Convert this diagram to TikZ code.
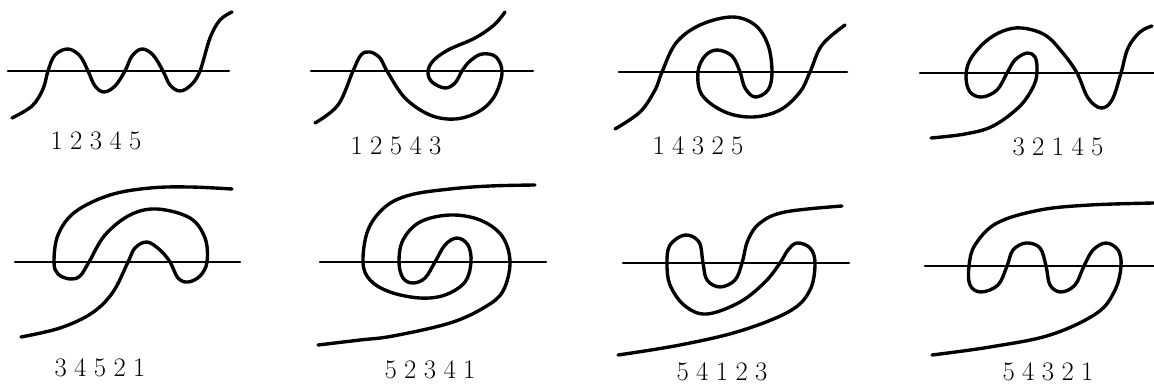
\documentclass[tikz,border=0pt]{standalone}
\usepackage{fontspec}
\usepackage{tikz}

\begin{document}
\begin{tikzpicture}[
  x=0.025cm,y=-0.025cm,
  axis/.style={line width=1.8pt,draw=black,line cap=round},
  meander/.style={line width=2.4pt,draw=black,line cap=round,line join=round,smooth,tension=0.6},
  num/.style={font=\fontsize{19}{22}\selectfont,inner sep=0pt}
]
\useasboundingbox (0,0) rectangle (1154,387);

% ends of the horizontal lines
\coordinate (l1) at (8,71);    \coordinate (r1) at (229,71);
\coordinate (l2) at (311,71);  \coordinate (r2) at (533,71);
\coordinate (l3) at (619,72);  \coordinate (r3) at (847,72);
\coordinate (l4) at (920,73);  \coordinate (r4) at (1154,73);
\coordinate (l5) at (15,262);  \coordinate (r5) at (240,262);
\coordinate (l6) at (320,262); \coordinate (r6) at (546,262);
\coordinate (l7) at (623,263); \coordinate (r7) at (849,263);
\coordinate (l8) at (925,266); \coordinate (r8) at (1154,266);

\draw[axis] (l1)--(r1);
\draw[axis] (l2)--(r2);
\draw[axis] (l3)--(r3);
\draw[axis] (l4)--(r4);
\draw[axis] (l5)--(r5);
\draw[axis] (l6)--(r6);
\draw[axis] (l7)--(r7);
\draw[axis] (l8)--(r8);

% top row
\draw[meander] plot coordinates {(12,118) (32,106) (43,89) (48,71) (55,55) (68,49) (80,56) (88,71) (95,86) (104,92) (115,86) (125,71) (132,56) (142,49) (153,55) (163,71) (170,85) (180,91) (191,85) (200,71) (210,38) (220,20) (232,12)};
\draw[meander] plot coordinates {(315,123) (338,105) (353,71) (361,55) (370,52) (380,58) (387,71) (405,98) (430,115) (455,119) (478,112) (494,97) (502,73) (496,57) (482,54) (470,61) (462,71) (455,83) (445,88) (432,82) (428,72) (433,61) (448,50) (475,38) (494,25) (505,12)};
\draw[meander] plot coordinates {(615,129) (640,112) (655,90) (662,72) (676,43) (700,25) (732,17) (755,25) (768,45) (772,72) (768,90) (755,97) (745,88) (740,72) (732,56) (717,50) (705,56) (698,72) (702,95) (725,112) (753,117) (780,110) (800,92) (810,72) (822,45) (845,25)};
\draw[meander] plot coordinates {(931,138) (965,134) (993,126) (1020,106) (1034,85) (1037,70) (1035,57) (1027,53) (1015,60) (1007,73) (997,90) (982,97) (970,92) (966,77) (970,60) (985,42) (1003,31) (1022,28) (1045,35) (1062,52) (1077,73) (1088,98) (1101,108) (1112,100) (1121,73) (1128,48) (1140,32) (1152,26)};

% bottom row
\draw[meander] plot coordinates {(21,337) (60,328) (92,313) (113,292) (128,262) (135,248) (147,242) (160,250) (170,262) (178,278) (188,282) (200,276) (207,262) (205,238) (190,218) (157,209) (130,215) (105,235) (89,262) (80,276) (70,279) (58,274) (54,262) (58,235) (75,212) (110,195) (150,188) (190,187) (232,189)};
\draw[meander] plot coordinates {(318,345) (360,340) (393,336) (450,323) (485,307) (503,291) (510,262) (502,236) (480,220) (450,215) (420,222) (403,240) (399,262) (403,278) (413,283) (425,278) (435,262) (445,245) (457,238) (468,245) (471,262) (465,282) (445,295) (420,298) (390,292) (370,280) (363,262) (368,230) (385,207) (410,195) (450,189) (490,186) (535,185)};
\draw[meander] plot coordinates {(618,355) (680,345) (740,331) (790,311) (810,290) (815,263) (810,248) (797,243) (788,250) (780,263) (765,282) (740,302) (707,314) (685,306) (670,285) (667,263) (670,245) (685,235) (699,242) (703,263) (707,280) (720,287) (735,280) (742,263) (748,240) (760,223) (785,212) (842,206)};
\draw[meander] plot coordinates {(932,355) (990,347) (1050,335) (1097,313) (1115,290) (1121,266) (1118,250) (1106,243) (1093,250) (1084,266) (1075,285) (1061,292) (1050,285) (1046,266) (1040,248) (1026,243) (1013,250) (1007,266) (998,285) (981,292) (970,285) (969,266) (975,245) (997,223) (1040,210) (1090,205) (1154,203)};

% numbers
\node[num] (n1) at (96,141) {1\;2\;3\;4\;5};
\node[num] (n2) at (396,146) {1\;2\;5\;4\;3};
\node[num] (n3) at (698,146) {1\;4\;3\;2\;5};
\node[num] (n4) at (1058,147) {3\;2\;1\;4\;5};
\node[num] (n5) at (100,368) {3\;4\;5\;2\;1};
\node[num] (n6) at (430,370) {5\;2\;3\;4\;1};
\node[num] (n7) at (722,372) {5\;4\;1\;2\;3};
\node[num] (n8) at (1048,372) {5\;4\;3\;2\;1};
\end{tikzpicture}
\end{document}
